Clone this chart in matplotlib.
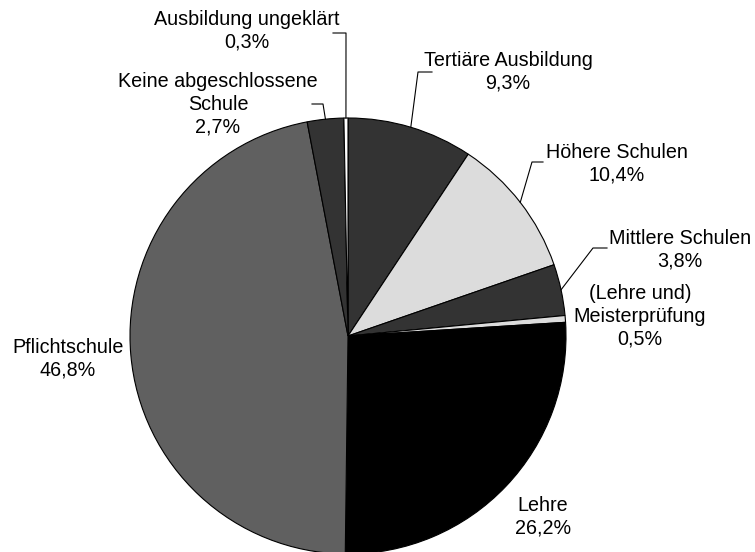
import numpy as np
import matplotlib.pyplot as plt

plt.rcParams['font.family'] = ['Liberation Sans', 'DejaVu Sans']

# data, clockwise from the top
categories = ["Tertiäre Ausbildung", "Höhere Schulen", "Mittlere Schulen",
              "(Lehre und)\nMeisterprüfung", "Lehre", "Pflichtschule",
              "Keine abgeschlossene\nSchule", "Ausbildung ungeklärt"]
shares = [9.3, 10.4, 3.8, 0.5, 26.2, 46.8, 2.7, 0.3]
colors = ["#333333", "#dcdcdc", "#333333", "#dcdcdc",
          "#000000", "#606060", "#333333", "#ffffff"]

W, H = 755, 552
cx, cy, r = 348, H - 336, 218

fig = plt.figure(figsize=(W / 100, H / 100), dpi=100)
ax = fig.add_axes([0, 0, 1, 1])

wedges, _ = ax.pie(shares, colors=colors, startangle=90, counterclock=False,
                   center=(cx, cy), radius=r,
                   wedgeprops=dict(edgecolor='black', linewidth=0.8))
ax.set_xlim(0, W)
ax.set_ylim(0, H)
ax.set_aspect('equal')
ax.axis('off')

# label centers (pixel coords, y down) and leader elbows
label_pos = [(508, 72), (617, 164), (680, 250), (640, 316),
             (543, 517), (68, 359), (218, 104), (247, 31)]
leaders = {0: [(418, 72), (432, 72)],
           1: [(532, 162), (543, 162)],
           2: [(593, 248), (607, 248)],
           6: [(323, 104), (312, 104)],
           7: [(346, 33), (333, 33)]}

for i, (name, val) in enumerate(zip(categories, shares)):
    x, y = label_pos[i]
    txt = name + "\n" + f"{val:.1f}".replace(".", ",") + "%"
    ax.text(x, H - y, txt, ha='center', va='center', fontsize=14.2,
            linespacing=1.25)
    if i in leaders:
        w = wedges[i]
        mid = np.deg2rad((w.theta1 + w.theta2) / 2)
        xs = [cx + r * np.cos(mid)] + [p[0] for p in leaders[i]]
        ys = [cy + r * np.sin(mid)] + [H - p[1] for p in leaders[i]]
        ax.plot(xs, ys, color='black', lw=0.8)

fig.savefig("out.png", dpi=100)
